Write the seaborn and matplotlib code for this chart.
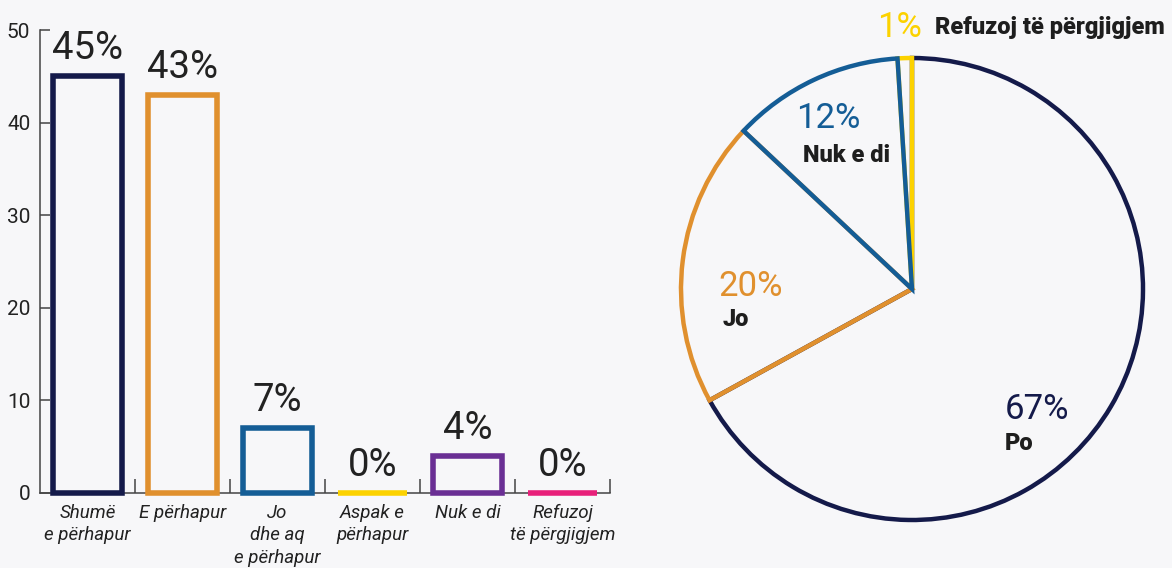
import matplotlib
matplotlib.use("Agg")
import matplotlib.pyplot as plt
import seaborn as sns
import numpy as np
import pandas as pd

# ---- data ----
bar_categories = ["Shumë\ne përhapur", "E përhapur", "Jo\ndhe aq\ne përhapur",
                  "Aspak e\npërhapur", "Nuk e di", "Refuzoj\ntë përgjigjem"]
bar_values = [45, 43, 7, 0, 4, 0]
bar_colors = ["#141a4a", "#e0902e", "#145d96", "#fcd200", "#6a2f94", "#e8207a"]
y_ticks = [0, 10, 20, 30, 40, 50]

pie_labels = ["Po", "Jo", "Nuk e di", "Refuzoj të përgjigjem"]
pie_values = [67, 20, 12, 1]
pie_colors = ["#141a4a", "#e0902e", "#145d96", "#fcd200"]
pie_layer = [1, 2, 4, 3]  # drawing order of wedge outlines
# label anchor positions (unit-circle coords of the pie axes): pct line, name line
pie_pct_pos = [(0.40, -0.52), (-0.84, 0.01), (-0.50, 0.74), (-0.15, 1.13)]
pie_name_pos = [(0.40, -0.67), (-0.82, -0.13), (-0.47, 0.58), (0.10, 1.13)]

BG = "#f7f7f9"
sns.set_theme(style="white")
plt.rcParams["font.family"] = ["Roboto", "DejaVu Sans"]

fig = plt.figure(figsize=(11.72, 5.68), dpi=100, facecolor=BG)

# ---- bar chart ----
ax = fig.add_axes([40/1172, 1-493/568, 570/1172, 463/568])
ax.set_facecolor(BG)
df = pd.DataFrame({"cat": bar_categories, "val": bar_values})
sns.barplot(data=df, x="cat", y="val", hue="cat", palette=bar_colors,
            fill=False, linewidth=4, width=0.73, legend=False, ax=ax)
for p in ax.patches:
    p.set_clip_on(False)
    p.set_zorder(3)
ax.set_xlim(-0.5, len(bar_categories) - 0.5)
ax.set_ylim(0, 50)
ax.set_yticks(y_ticks)
ax.set_xlabel("")
ax.set_ylabel("")
for s in ["top", "right"]:
    ax.spines[s].set_visible(False)
for s in ["left", "bottom"]:
    ax.spines[s].set_color("#444444")
    ax.spines[s].set_linewidth(1.1)
ax.tick_params(axis="y", direction="in", length=7, width=1.1, color="#444444",
               labelsize=15, labelcolor="#222222", pad=7, left=True)
ax.set_xticks(range(len(bar_categories)))
ax.set_xticklabels(bar_categories, fontstyle="italic", fontsize=13.5,
                   color="#222222", linespacing=1.3)
ax.tick_params(axis="x", which="major", length=0, pad=8)
ax.set_xticks(np.arange(0.5, len(bar_categories), 1.0), minor=True)
ax.tick_params(axis="x", which="minor", direction="in", length=10, width=1.1,
               color="#444444", bottom=True)
for i, v in enumerate(bar_values):
    ax.annotate(f"{v}%", (i, v), xytext=(0, 20), textcoords="offset points",
                ha="center", va="center", fontsize=27.5, color="#222222")

# ---- pie chart ----
pax = fig.add_axes([681/1172, 1-520/568, 462/1172, 462/568])
pax.set_facecolor(BG)
wedges, _ = pax.pie(pie_values, startangle=90, counterclock=False,
                    wedgeprops=dict(linewidth=3.2))
for w, c, z in zip(wedges, pie_colors, pie_layer):
    w.set_facecolor("none")
    w.set_edgecolor(c)
    w.set_zorder(z)
pax.set_xlim(-1, 1)
pax.set_ylim(-1, 1)
pax.set_aspect("equal")
pax.axis("off")
for v, name, c, pp, npos in zip(pie_values, pie_labels, pie_colors, pie_pct_pos, pie_name_pos):
    pax.text(pp[0], pp[1], f"{v}%", ha="left", va="center", fontsize=25, color=c)
    pax.text(npos[0], npos[1], name, ha="left", va="center", fontsize=17,
             fontweight=900, color="#1e1e1e")

fig.savefig("out.png", dpi=100, facecolor=BG)
